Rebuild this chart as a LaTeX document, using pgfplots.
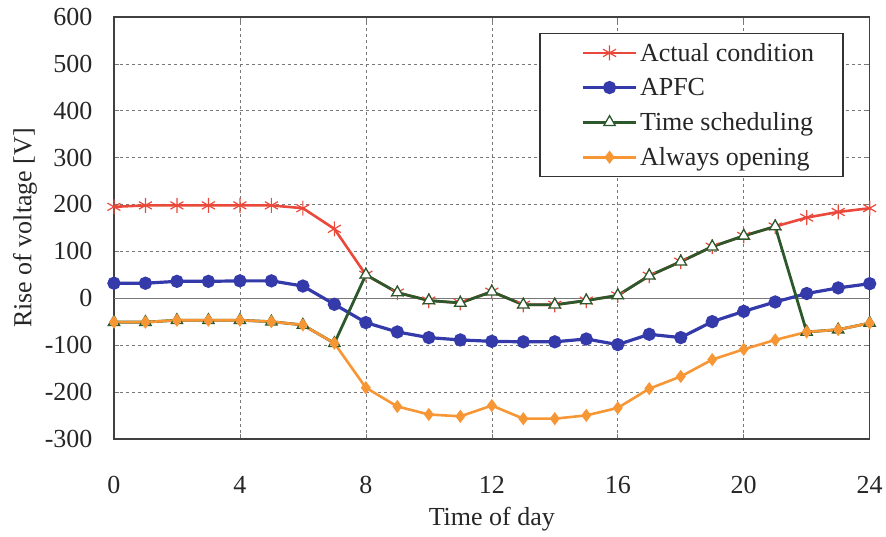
\documentclass[border=0pt]{standalone}
\usepackage{pgfplots}
\pgfplotsset{compat=1.18}
\usepackage{fontspec}
\setmainfont{Liberation Serif}

\definecolor{actred}{RGB}{234,72,58}
\definecolor{apfcblue}{RGB}{52,58,170}
\definecolor{schgreen}{RGB}{44,88,44}
\definecolor{openorange}{RGB}{246,150,52}
\definecolor{gridgray}{RGB}{120,120,120}

\newcommand{\bigfont}{\fontsize{26}{30}\selectfont}

% Hourly rise of voltage [V] for each control method
\pgfplotstableread{
h  actual  apfc  sched  always
0   195    32    -51    -51
1   198    32    -51    -51
2   198    36    -47    -47
3   198    36    -47    -47
4   198    37    -47    -47
5   198    37    -50    -50
6   192    26    -57    -57
7   148   -13    -96    -96
8    50   -52     50   -191
9    12   -72     12   -231
10   -5   -84     -5   -248
11  -10   -89    -10   -252
12   14   -92     14   -229
13  -14   -93    -14   -257
14  -14   -93    -14   -257
15   -5   -87     -5   -250
16    6   -99      6   -234
17   48   -77     48   -193
18   78   -84     78   -167
19  110   -50    110   -131
20  133   -28    133   -109
21  153    -8    153    -89
22  172    10    -72    -72
23  184    22    -67    -67
24  192    31    -53    -53
}\voltdata

\begin{document}
\begin{tikzpicture}
\begin{axis}[
  scale only axis,
  width=756pt, height=422pt,
  xmin=0, xmax=24, ymin=-300, ymax=600,
  xtick={0,4,...,24},
  ytick={-300,-200,...,600},
  extra y ticks={0},
  extra y tick labels={},
  extra y tick style={grid=major, major grid style={solid, gridgray, line width=0.8pt}},
  grid=major,
  major grid style={gridgray, line width=0.6pt, dash pattern=on 3pt off 3pt},
  axis line style={draw=black!75, line width=1.6pt},
  tick align=inside,
  major tick length=5pt,
  tick style={gridgray, line width=0.6pt},
  /pgf/number format/assume math mode=true,
  tick label style={font=\bigfont, text=black!85},
  yticklabel style={xshift=-18pt},
  xticklabel style={yshift=-34pt},
  xlabel={Time of day},
  ylabel={Rise of voltage [V]},
  label style={font=\bigfont, text=black!85},
  xlabel style={at={(axis description cs:0.5,0)}, anchor=north, inner sep=0pt, yshift=-68pt},
  ylabel style={at={(axis description cs:0,0.5)}, anchor=north, inner sep=0pt, yshift=101pt},
  legend style={
    at={(rel axis cs:1,1)}, anchor=north east,
    xshift=-26pt, yshift=-16pt,
    font=\bigfont, text=black!85,
    draw=black!80, line width=1.4pt,
    row sep=11.5pt, inner xsep=27pt, inner ysep=7.5pt,
    cells={anchor=west},
  },
  legend image code/.code={%
    \path[draw=none, fill=none] (0pt,-1pt) rectangle (71pt,1pt);
    \draw[mark repeat=2, mark phase=2, #1]
      plot coordinates {(16pt,0pt) (42.5pt,0pt) (69pt,0pt)};%
  },
]
\addplot[actred, line width=2.6pt, mark=asterisk, mark size=7.5pt,
  mark options={line width=1.2pt}]
  table[x=h, y=actual] {\voltdata};
\addlegendentry{Actual condition}
\addplot[apfcblue, line width=3.2pt, mark=*, mark size=5pt]
  table[x=h, y=apfc] {\voltdata};
\addlegendentry{APFC}
\addplot[schgreen, line width=2.8pt, mark=triangle*, mark size=6.5pt,
  mark options={fill=white, line width=1.3pt}]
  table[x=h, y=sched] {\voltdata};
\addlegendentry{Time scheduling}
\addplot[openorange, line width=2.6pt, mark=diamond*, mark size=4.5pt]
  table[x=h, y=always] {\voltdata};
\addlegendentry{Always opening}
\coordinate (O) at (rel axis cs:0,0);
\end{axis}
\path ([shift={(-114pt,-98pt)}]O) rectangle ([shift={(772pt,439pt)}]O);
\end{tikzpicture}
\end{document}
